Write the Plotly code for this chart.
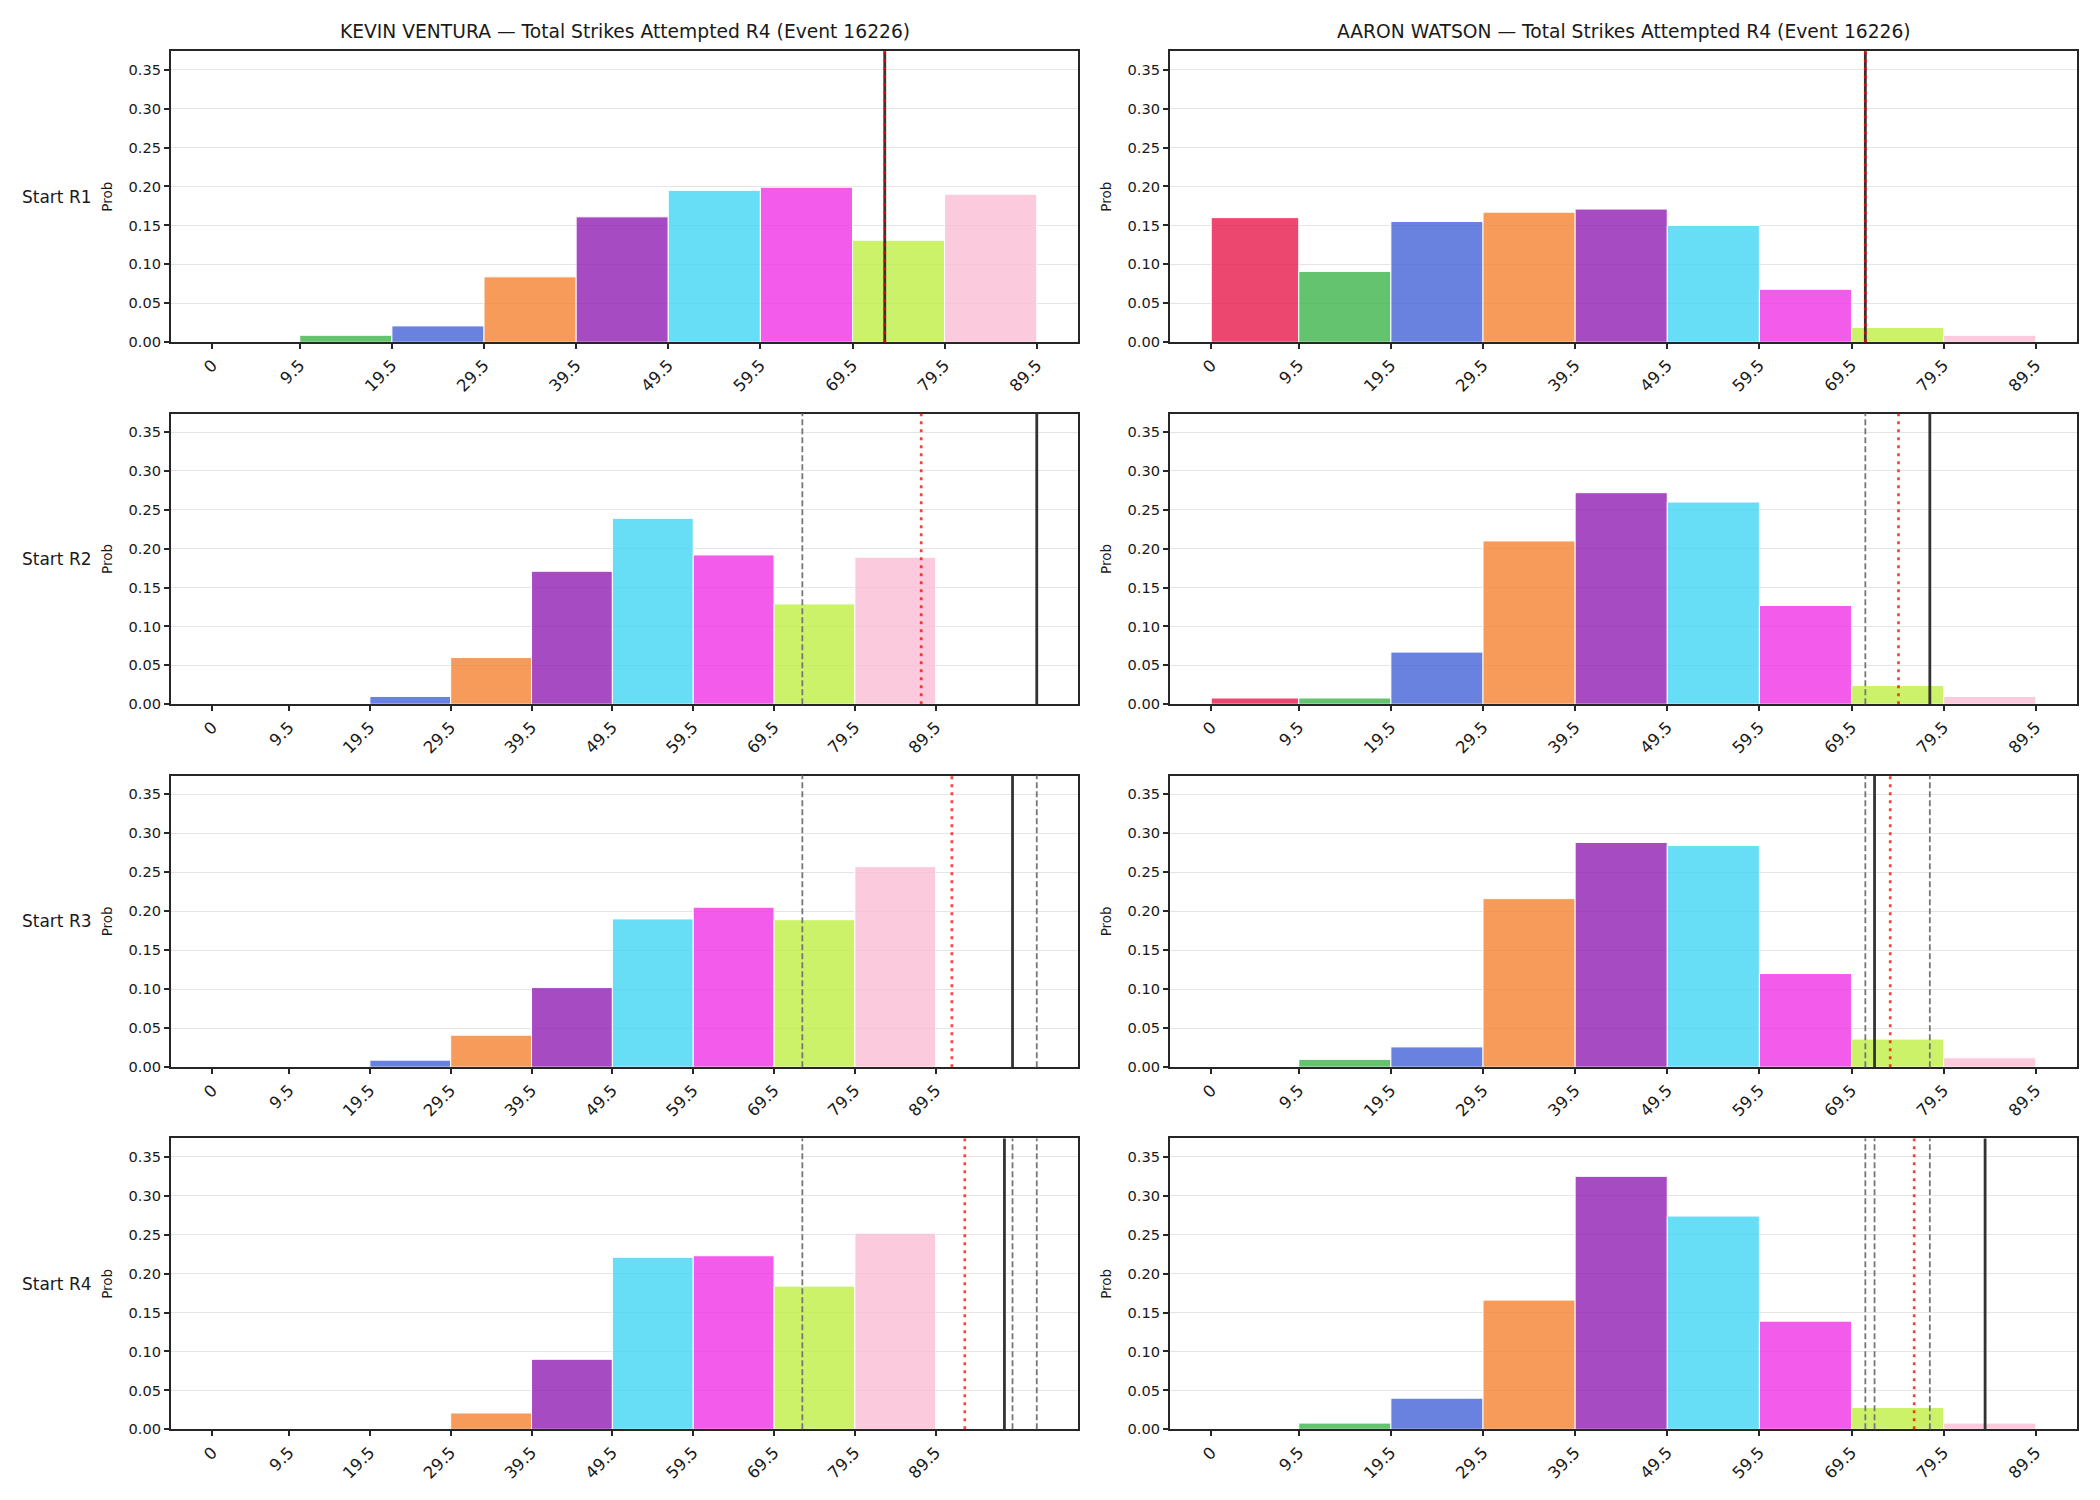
import plotly.graph_objects as go

# ---------------- data ----------------
fighters = ["KEVIN VENTURA", "AARON WATSON"]
title_suffix = " — Total Strikes Attempted R4 (Event 16226)"
row_labels = ["Start R1", "Start R2", "Start R3", "Start R4"]

bin_edges = [0, 9.5, 19.5, 29.5, 39.5, 49.5, 59.5, 69.5, 79.5, 89.5]
tick_labels = ["0", "9.5", "19.5", "29.5", "39.5", "49.5", "59.5", "69.5", "79.5", "89.5"]
bin_colors = ["#e6194b", "#3cb44b", "#4363d8", "#f58231", "#911eb4",
              "#42d4f4", "#f032e6", "#bfef45", "#fabed4"]

kevin_r1 = [0.000, 0.009, 0.021, 0.084, 0.161, 0.195, 0.199, 0.131, 0.190]
kevin_r2 = [0.000, 0.000, 0.010, 0.060, 0.171, 0.239, 0.192, 0.129, 0.189]
kevin_r3 = [0.000, 0.000, 0.009, 0.041, 0.102, 0.190, 0.205, 0.189, 0.257]
kevin_r4 = [0.000, 0.000, 0.000, 0.021, 0.090, 0.221, 0.223, 0.184, 0.252]

aaron_r1 = [0.160, 0.091, 0.155, 0.167, 0.171, 0.150, 0.068, 0.019, 0.009]
aaron_r2 = [0.008, 0.008, 0.067, 0.210, 0.272, 0.260, 0.127, 0.024, 0.010]
aaron_r3 = [0.000, 0.010, 0.026, 0.216, 0.288, 0.284, 0.120, 0.036, 0.012]
aaron_r4 = [0.000, 0.008, 0.040, 0.166, 0.325, 0.274, 0.139, 0.028, 0.008]

# vertical reference lines per start round
kevin_line = [73, 102, 99, 98]          # black solid
kevin_proj = [73, 87.7, 91.5, 93.1]     # red dotted
kevin_prev = [[], [73], [73, 102], [73, 102, 99]]   # gray dashed

aaron_line = [71, 78, 72, 84]
aaron_proj = [71, 74.6, 73.7, 76.3]
aaron_prev = [[], [71], [71, 78], [71, 78, 72]]

probs = [[kevin_r1, kevin_r2, kevin_r3, kevin_r4],
         [aaron_r1, aaron_r2, aaron_r3, aaron_r4]]
lines = [kevin_line, aaron_line]
projs = [kevin_proj, aaron_proj]
prevs = [kevin_prev, aaron_prev]

# ---------------- layout geometry ----------------
W, H = 2100, 1500
col_px = [(171, 1078), (1170, 2077)]
row_px = [(51.4, 344.1), (415.8, 708.0), (779.7, 1072.9), (1144.5, 1437.0)]

FONT = "DejaVu Sans"
TXT = "#1a1a1a"


def hex_rgba(h, a):
    h = h.lstrip("#")
    return "rgba(%d,%d,%d,%.2f)" % (int(h[0:2], 16), int(h[2:4], 16), int(h[4:6], 16), a)


centers = [(bin_edges[i] + bin_edges[i + 1]) / 2 for i in range(len(bin_edges) - 1)]
widths = [bin_edges[i + 1] - bin_edges[i] for i in range(len(bin_edges) - 1)]
fill = [hex_rgba(c, 0.8) for c in bin_colors]

ymax = max(max(p) for col in probs for p in col) * 1.15

fig = go.Figure()
layout = dict(
    width=W, height=H, margin=dict(l=0, r=0, t=0, b=0),
    paper_bgcolor="white", plot_bgcolor="white", showlegend=False,
    font=dict(family=FONT, color=TXT),
)
shapes = []
annotations = []

idx = 0
for r in range(4):
    for c in range(2):
        idx += 1
        xa = "x" if idx == 1 else "x%d" % idx
        ya = "y" if idx == 1 else "y%d" % idx
        vals = probs[c][r]
        fig.add_trace(go.Bar(
            x=centers, y=vals, width=widths,
            marker=dict(color=fill, line=dict(color="white", width=1)),
            xaxis=xa, yaxis=ya, hoverinfo="x+y",
        ))
        vx = [lines[c][r], projs[c][r]] + prevs[c][r]
        lo = min(bin_edges[0], min(vx))
        hi = max(bin_edges[-1], max(vx))
        span = hi - lo
        xr = [lo - 0.05 * span, hi + 0.05 * span]

        x0, x1 = col_px[c]
        t, b = row_px[r]
        xd = [x0 / W, x1 / W]
        yd = [1 - b / H, 1 - t / H]
        axis_common = dict(
            showline=True, linecolor="#262626", linewidth=2, mirror=True,
            ticks="outside", ticklen=5, tickwidth=1.5, tickcolor="#262626",
            zeroline=False,
        )
        layout["xaxis" if idx == 1 else "xaxis%d" % idx] = dict(
            axis_common, domain=xd, anchor=ya, range=xr,
            tickmode="array", tickvals=bin_edges, ticktext=tick_labels,
            tickangle=-45, showgrid=False,
            tickfont=dict(family=FONT, size=16.5, color=TXT),
        )
        layout["yaxis" if idx == 1 else "yaxis%d" % idx] = dict(
            axis_common, domain=yd, anchor=xa, range=[0, ymax],
            tickmode="array", tickvals=[0, 0.05, 0.10, 0.15, 0.20, 0.25, 0.30, 0.35],
            tickformat=".2f", showgrid=True, gridcolor="#e5e5e5", gridwidth=1,
            tickfont=dict(family=FONT, size=14.6, color=TXT),
        )
        # vertical lines
        shapes.append(dict(type="line", xref=xa, yref=ya + " domain",
                           x0=lines[c][r], x1=lines[c][r], y0=0, y1=1,
                           line=dict(color="#333333", width=2.8)))
        for g in prevs[c][r]:
            shapes.append(dict(type="line", xref=xa, yref=ya + " domain",
                               x0=g, x1=g, y0=0, y1=1,
                               line=dict(color="#777777", width=1.8, dash="6px,3px")))
        shapes.append(dict(type="line", xref=xa, yref=ya + " domain",
                           x0=projs[c][r], x1=projs[c][r], y0=0, y1=1,
                           line=dict(color="rgba(255,0,0,0.75)", width=2.7, dash="3px,5px")))
        # y label
        annotations.append(dict(
            text="Prob", xref="paper", yref="paper",
            x=(x0 - 64) / W, y=(yd[0] + yd[1]) / 2, textangle=-90,
            xanchor="center", yanchor="middle", showarrow=False,
            font=dict(family=FONT, size=13.5, color=TXT)))
        if c == 0:
            annotations.append(dict(
                text=row_labels[r], xref="paper", yref="paper",
                x=20 / W, y=(yd[0] + yd[1]) / 2, xanchor="left", yanchor="middle",
                showarrow=False, font=dict(family=FONT, size=17, color=TXT)))
        if r == 0:
            annotations.append(dict(
                text=fighters[c] + title_suffix, xref="paper", yref="paper",
                x=(x0 + x1) / 2 / W, y=1 - 31.5 / H, xanchor="center", yanchor="middle",
                showarrow=False, font=dict(family=FONT, size=18.7, color=TXT)))

layout["shapes"] = shapes
layout["annotations"] = annotations
fig.update_layout(**layout)
fig.write_html("out.html")
